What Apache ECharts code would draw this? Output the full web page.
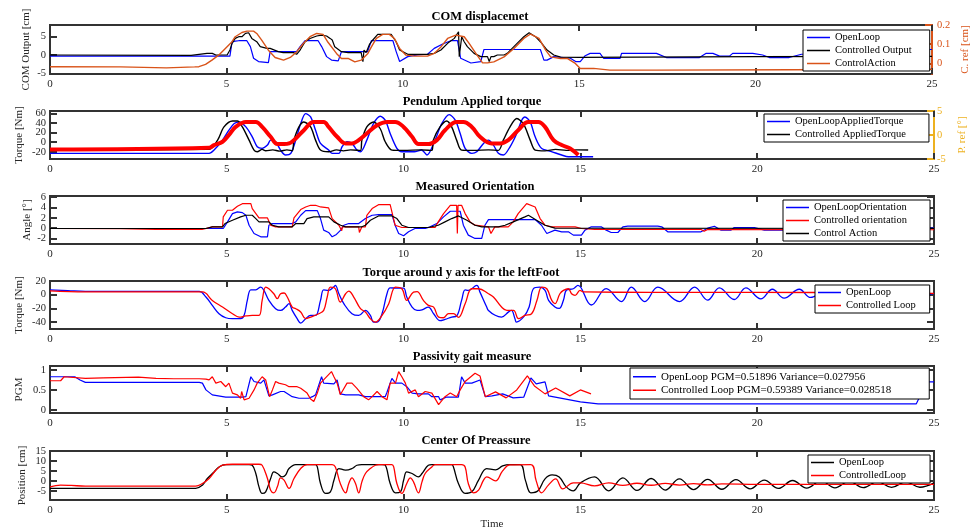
<!DOCTYPE html>
<html><head><meta charset="utf-8">
<script src="https://cdn.jsdelivr.net/npm/echarts@6/dist/echarts.min.js"></script>
<style>html,body{margin:0;padding:0;background:#fff}#c{width:979px;height:532px}</style>
</head><body><div id="c"></div>
<script>
// ---------- DATA (time [s], value) ----------
// Panel 1: COM displacement
const comOpenLoop = [[0,-0.3],[5.1,-0.3],[5.16,3.6],[5.25,3.8],[5.35,3.9],[5.58,3.9],[5.68,2.3],[5.77,-0.9],[5.91,-1.8],[6.19,-2.1],[6.24,0.9],[6.99,0.9],[7.09,2.3],[7.23,3.9],[7.6,3.9],[7.7,2.3],[7.84,-0.45],[7.98,-1.4],[8.17,-1.6],[8.26,0.9],[9.0,0.9],[9.11,3.9],[9.72,3.9],[9.81,1.0],[9.91,-1.8],[10.14,-0.45],[10.42,0],[10.7,0.2],[10.89,1.8],[11.13,3.0],[11.36,3.9],[11.55,3.9],[11.64,-0.9],[11.93,-2.2],[12.21,-1.8],[12.3,1.5],[13.9,1.5],[14.0,-1.4],[14.09,-1.4],[14.28,-0.45],[14.75,-0.9],[14.9,-1.8],[15.03,-1.8],[15.17,-0.2],[15.31,0.45],[15.59,0.45],[15.69,-0.9],[16.16,-0.9],[16.2,0.45],[17.19,0.45],[17.47,-0.7],[18.41,-0.7],[18.6,0.45],[18.79,0.45],[18.98,-0.3],[19.26,-0.3],[19.35,0.45],[19.92,0.45],[20.2,0],[20.39,-0.7],[20.95,-0.7],[21.3,0.2],[24,0.4],[24.7,1.5],[25,1.5]];
const comControlled = [[0,0],[4.0,-0.1],[4.45,0.45],[4.6,0.45],[4.7,0],[5.02,0],[5.1,1.36],[5.16,3.18],[5.25,4.54],[5.35,5.0],[5.44,5.0],[5.54,5.9],[5.63,6.08],[5.72,4.54],[5.86,3.63],[5.96,2.27],[6.15,1.82],[6.24,1.82],[6.29,1.54],[6.47,0.91],[6.61,0.64],[6.9,0.64],[6.99,0.18],[7.09,1.36],[7.23,3.63],[7.37,4.5],[7.56,5.2],[7.7,5.45],[7.84,5.2],[7.94,4.54],[8.0,4.1],[8.07,2.27],[8.26,0.91],[8.45,0.64],[8.82,0.64],[8.87,-1.82],[8.9,1.36],[8.96,0.64],[9.06,3.0],[9.15,4.1],[9.29,5.63],[9.67,5.63],[9.72,5.45],[9.81,3.63],[9.91,1.36],[10.14,0.18],[10.7,0.18],[10.89,0.45],[11.08,1.36],[11.27,3.18],[11.46,4.54],[11.58,6.36],[11.6,-0.45],[11.63,-0.45],[11.67,5.0],[11.74,3.63],[11.83,2.27],[12.02,0.45],[12.21,-0.45],[12.4,-0.45],[12.45,-1.8],[12.5,-0.45],[12.58,-0.45],[12.68,0],[12.87,0],[12.96,0.45],[13.1,1.82],[13.24,3.18],[13.43,5.0],[13.58,6.1],[13.76,5.0],[13.9,3.63],[14.09,1.36],[14.28,0],[14.47,-0.6],[15,-0.64],[20,-0.45],[25,-0.4]];
const comControlAction = [[0,-0.017],[2,-0.018],[3.3,-0.023],[4.1,-0.018],[4.22,-0.017],[4.41,-0.005],[4.59,0.017],[4.78,0.043],[4.97,0.078],[5.16,0.113],[5.25,0.139],[5.44,0.161],[5.58,0.168],[5.77,0.168],[5.86,0.156],[6.0,0.121],[6.19,0.069],[6.38,0.031],[6.62,0.017],[6.81,0.031],[6.99,0.060],[7.18,0.104],[7.37,0.139],[7.56,0.156],[7.74,0.151],[7.88,0.110],[8.12,0.052],[8.26,0.026],[8.45,0.026],[8.64,0.008],[8.82,0.017],[9.01,0.052],[9.11,0.086],[9.25,0.130],[9.43,0.151],[9.62,0.151],[9.76,0.13],[9.91,0.078],[10.09,0.043],[10.33,0.038],[10.7,0.038],[10.89,0.052],[11.08,0.086],[11.27,0.130],[11.5,0.147],[11.74,0.139],[11.88,0.104],[12.07,0.052],[12.26,0.003],[12.4,0.003],[12.58,0.008],[12.87,0.034],[13.15,0.078],[13.43,0.13],[13.62,0.153],[13.86,0.13],[14.05,0.069],[14.19,0.034],[14.47,0.026],[14.66,0.026],[14.89,0],[15.03,-0.026],[15.41,-0.026],[15.87,-0.035],[17.19,-0.035],[21,-0.033],[25,-0.03]];

// Panel 2: Pendulum applied torque
const torqueOpenLoop = [[0,-23.2],[4.5,-23.2],[4.64,-16.4],[4.88,4.3],[5.06,25],[5.21,38.9],[5.35,42.2],[5.54,31.9],[5.72,11.2],[5.86,-9.5],[6.0,-12.8],[6.15,-6],[6.24,4.3],[6.38,0.9],[6.52,-16.4],[6.66,-26.7],[6.81,-23.2],[6.95,4.3],[7.09,38.9],[7.23,59.6],[7.37,52.6],[7.51,25],[7.65,-2.5],[7.88,-16.4],[7.98,-23.2],[8.17,-23.2],[8.26,-9.5],[8.4,0.9],[8.54,-2.5],[8.68,-16.4],[8.78,-19.9],[8.96,4.3],[9.15,38.9],[9.34,54],[9.48,45.8],[9.62,18.2],[9.81,-12.8],[9.95,-19.9],[10.3,-19.9],[10.51,-16.4],[10.66,-26.7],[10.89,4.3],[11.08,38.9],[11.29,57.5],[11.46,45.8],[11.6,18.2],[11.74,-12.8],[11.93,-23.2],[12.07,-19.9],[12.26,-2.5],[12.4,4.3],[12.54,-6],[12.68,-23.2],[12.82,-26.7],[13.01,-9.5],[13.2,18.2],[13.34,45.8],[13.43,52.6],[13.58,42.2],[13.72,11.2],[13.9,-12.8],[14.2,-20],[14.47,-26.7],[14.66,-30.2],[15.36,-30.2]];
const torqueControlled = [[0,-16],[4.5,-15],[4.74,4.3],[4.92,31.9],[5.16,44.3],[5.3,44.3],[5.44,31.9],[5.63,4.3],[5.77,-16.4],[5.86,-19.9],[6.0,-15],[6.1,-17.8],[6.3,-16],[6.5,-18.5],[6.7,-16],[6.85,-17.8],[6.9,4.3],[7.04,31.9],[7.18,42.2],[7.37,31.9],[7.51,4.3],[7.65,-16.4],[7.88,-19.9],[8.1,-16],[8.3,-18],[8.5,-16],[8.78,-17],[8.82,4.3],[8.96,31.9],[9.15,42.2],[9.34,28],[9.48,0.9],[9.67,-16.4],[10.0,-17],[10.5,-16],[10.8,-17],[10.84,4.3],[11.03,31.9],[11.22,44.3],[11.36,31.9],[11.5,4.3],[11.64,-16.4],[12.0,-17],[12.4,-16],[12.68,-17],[12.82,4.3],[13.01,31.9],[13.2,49.3],[13.39,38],[13.58,4.3],[13.72,-16.4],[14.0,-18],[14.3,-15],[14.6,-17],[14.9,-16],[15.22,-16.4]];
const pendulumRef = [[0,-3.0],[4.5,-2.65],[4.64,-2.1],[4.88,-1.41],[5.06,0],[5.25,1.69],[5.54,2.73],[5.82,2.73],[6.0,1.69],[6.24,-0.37],[6.43,-1.89],[6.62,-1.89],[6.76,-1.76],[6.95,-0.72],[7.18,1.0],[7.46,2.73],[7.74,2.73],[7.88,1.69],[8.12,-0.37],[8.36,-1.76],[8.54,-1.76],[8.73,-1.07],[8.96,0.31],[9.25,2.04],[9.53,2.73],[9.76,2.73],[10.0,1.69],[10.24,-0.37],[10.42,-1.89],[10.7,-1.89],[10.94,-1.07],[11.17,1.0],[11.5,2.73],[11.69,2.73],[11.93,1.69],[12.16,-0.37],[12.49,-1.76],[12.73,-1.76],[12.96,-1.07],[13.24,1.0],[13.53,2.73],[13.81,2.73],[14.0,1.69],[14.24,-1.07],[14.47,-2.1],[14.71,-2.8],[14.94,-4.17]];

// Panel 3: Measured orientation
const oriOpenLoop = [[0,-0.06],[4.9,-0.06],[5.02,1.21],[5.16,2.81],[5.3,3.13],[5.44,3.0],[5.54,2.49],[5.63,0.57],[5.77,-1.02],[5.96,-1.66],[6.15,-1.66],[6.19,0.57],[6.29,0.89],[6.85,0.89],[6.95,1.21],[7.09,2.49],[7.23,3.38],[7.56,3.38],[7.65,1.85],[7.74,-0.38],[7.88,-0.83],[7.98,-1.66],[8.1,-1.2],[8.22,-0.38],[8.31,0.57],[8.45,0.89],[8.73,0.89],[8.92,1.85],[9.11,2.49],[9.29,2.6],[9.67,2.6],[9.76,0.57],[9.86,-1.02],[10.0,-1.47],[10.14,-0.7],[10.32,-0.06],[10.61,-0.06],[10.75,0.26],[10.94,0.89],[11.13,2.17],[11.32,3.26],[11.6,3.26],[11.69,0.57],[11.83,-1.34],[12.02,-1.98],[12.21,-1.98],[12.3,0.57],[12.4,1.66],[13.72,1.66],[13.9,0.57],[14.05,-1.02],[14.28,-0.38],[14.47,-0.7],[14.66,-0.7],[14.8,-1.34],[15.03,-1.34],[15.13,-0.38],[15.31,0.26],[15.59,0.26],[15.73,-0.38],[15.87,-0.83],[16.06,-0.83],[16.2,0.26],[16.34,0.38],[17.19,0.38],[17.3,0.26],[17.47,-0.7],[18.41,-0.7],[18.6,0],[18.79,0.38],[18.98,-0.38],[19.26,-0.38],[19.35,0.13],[19.92,0.13],[20.2,-0.38],[20.95,-0.38],[21.3,0],[25,0]];
const oriControlled = [[0,-0.06],[2,-0.1],[3,-0.26],[4.3,-0.26],[4.59,0.26],[4.88,0.26],[4.9,2.17],[5.02,3.45],[5.16,3.45],[5.3,4.21],[5.44,4.72],[5.68,4.72],[5.72,3.77],[5.91,1.98],[6.15,1.98],[6.24,0.57],[6.38,0.26],[6.85,0.26],[6.9,1.98],[7.09,3.58],[7.23,4.09],[7.37,4.41],[7.51,4.41],[7.65,4.09],[7.88,3.9],[7.98,1.85],[8.17,0.57],[8.25,-0.5],[8.27,0.26],[8.73,0.26],[8.75,-0.83],[8.8,-0.83],[8.82,0.26],[8.92,0.26],[8.96,2.49],[9.11,3.77],[9.29,4.53],[9.62,4.53],[9.76,0.57],[9.95,0.13],[10.89,0.13],[10.98,1.21],[11.13,2.81],[11.32,4.41],[11.5,4.41],[11.52,-1.02],[11.54,4.41],[11.64,4.41],[11.74,2.81],[11.88,1.21],[12.02,0.57],[12.4,0.26],[12.47,-1.02],[12.5,-1.02],[12.58,0.26],[12.96,0.26],[13.1,1.21],[13.24,2.81],[13.48,4.72],[13.72,4.09],[13.86,1.85],[14.0,0.57],[14.19,0.26],[14.85,0.26],[15.03,-0.06],[15.41,-0.26],[18.41,-0.26],[18.5,-0.6],[18.6,-0.26],[25,-0.3]];
const oriControlAction = [[0,-0.06],[4.41,-0.06],[4.59,0.26],[4.88,0.26],[4.95,0.9],[5.16,1.53],[5.39,2.17],[5.54,2.49],[5.72,2.49],[5.82,1.85],[5.91,1.21],[6.19,1.21],[6.29,0.57],[6.47,0.26],[6.85,0.26],[6.95,0.89],[7.18,0.89],[7.27,1.85],[7.46,2.17],[7.88,2.17],[8.03,1.21],[8.22,0.57],[8.36,0.26],[8.82,0.26],[8.92,0.57],[9.06,1.53],[9.29,2.36],[9.67,2.36],[9.81,1.85],[9.95,0.57],[10.14,0.13],[10.7,0.13],[10.98,0.57],[11.17,1.21],[11.36,1.85],[11.55,2.36],[11.79,1.53],[12.02,0.57],[12.21,0.26],[12.68,0.26],[12.87,0.57],[13.1,1.21],[13.43,2.17],[13.53,2.49],[13.76,1.53],[14.0,0.57],[14.28,0],[25,-0.06]];

// Panel 4: Torque around y axis, left foot
const footOpenLoop = [[0,7],[0.5,6],[1,5],[4.22,5],[4.41,-3.4],[4.59,-15.6],[4.78,-27.7],[4.97,-33.6],[5.16,-35],[5.39,-35],[5.49,-30],[5.58,-8.3],[5.68,7.2],[5.82,7.2],[5.96,11.1],[6.05,6.3],[6.19,-8.3],[6.38,-20.4],[6.52,-22.9],[6.66,-18],[6.76,-13.1],[6.85,-22.9],[6.99,-35],[7.09,-41.3],[7.23,-35],[7.37,-30.2],[7.51,-30.2],[7.65,-8.3],[7.74,7.2],[7.88,6.3],[8.02,11.1],[8.07,13.6],[8.17,1.4],[8.31,-13.1],[8.54,-27.7],[8.73,-30.2],[8.92,-22.9],[9.06,-30.2],[9.15,-39.9],[9.25,-39.9],[9.39,-27.7],[9.53,1.4],[9.62,10],[9.86,9.5],[10.0,9.5],[10.09,-3.4],[10.24,-18],[10.38,-22.9],[10.52,-22],[10.7,-18],[10.85,-27.7],[11.03,-37.7],[11.17,-36],[11.36,-32.6],[11.5,-31],[11.64,-8.3],[11.74,7.2],[11.83,6.3],[12.07,13.6],[12.16,3.8],[12.35,-18],[12.4,-22.9],[12.59,-30],[12.77,-32.6],[12.97,-25],[13.05,-22.9],[13.15,-35],[13.19,-39.9],[13.4,-32],[13.55,-18],[13.67,8.7],[13.85,11.1],[14.0,6.3],[14.1,-8.3],[14.28,-18],[14.4,-20],[14.52,-8],[14.61,7],[14.8,8.7],[14.93,13.6],[15.31,-15],[15.73,9],[16.16,-10],[16.44,11],[16.82,-10],[17.19,11],[17.8,-10],[18.23,11],[18.6,-8],[18.93,10],[19.35,-7],[19.68,10],[20.1,-6],[20.43,8],[20.76,-5],[21.19,8],[21.51,-4],[21.95,6],[22.35,-3],[22.75,5],[23.15,-2],[23.55,4],[23.95,-1],[24.35,3],[24.75,0],[25,2]];
const footControlled = [[0,5.5],[1,4],[4.31,4],[4.59,-8.3],[4.88,-18],[5.16,-27.7],[5.35,-32.6],[5.54,-31],[5.72,-30.2],[5.91,-30.2],[6.0,-8.3],[6.1,11.1],[6.19,8.7],[6.33,1.4],[6.43,-5.8],[6.52,1.4],[6.62,2.5],[6.71,-3.4],[6.85,-18],[6.95,-20.4],[7.09,-25.3],[7.23,-35],[7.37,-32.6],[7.6,-27.7],[7.74,-22.9],[7.84,-3.4],[7.93,11.1],[8.07,8.7],[8.21,-10.7],[8.36,1.4],[8.45,5.3],[8.59,-3.4],[8.78,-20.4],[8.92,-25.3],[9.06,-35],[9.2,-39.9],[9.39,-30.2],[9.58,-13.1],[9.77,11.1],[9.95,8.7],[10.09,-8.3],[10.28,3.8],[10.38,4.5],[10.56,-8.3],[10.7,-15.6],[10.85,-18],[10.99,-32.6],[11.13,-33.6],[11.27,-27.7],[11.41,-27.7],[11.55,-33],[11.74,-13.1],[11.93,8.7],[12.12,8.7],[12.4,1.4],[12.54,-3.4],[12.77,-18],[12.92,-22.9],[13.11,-22.9],[13.25,-35],[13.43,-30.2],[13.62,-27.7],[13.77,-8.3],[13.91,11.1],[14.05,8.7],[14.19,-8.3],[14.28,-13.1],[14.42,1.4],[14.52,6.3],[14.66,8.7],[14.75,1.4],[14.85,-1],[14.99,6.3],[15.08,4],[17,3.5],[20,3.5],[25,2]];

// Panel 5: Passivity gait measure
const pgmOpenLoop = [[0,0.83],[0.7,0.83],[0.85,0.75],[1.0,0.69],[4.22,0.69],[4.31,0.67],[4.41,0.5],[4.59,0.375],[4.97,0.32],[5.44,0.32],[5.54,0.33],[5.68,0.83],[5.77,0.71],[5.96,0.67],[6.05,0.75],[6.1,0.75],[6.19,0.35],[6.29,0.375],[6.52,0.46],[6.62,0.46],[6.85,0.33],[7.04,0.29],[7.32,0.29],[7.42,0.33],[7.51,0.375],[7.68,0.83],[7.74,0.67],[8.03,0.65],[8.12,0.75],[8.21,0.4],[8.36,0.375],[8.73,0.375],[8.92,0.33],[9.48,0.33],[9.53,0.44],[9.62,0.67],[9.67,0.79],[9.77,0.67],[9.95,0.67],[10.0,0.71],[10.09,0.58],[10.24,0.42],[10.42,0.40],[10.7,0.40],[10.8,0.33],[10.99,0.33],[11.03,0.25],[11.22,0.32],[11.55,0.32],[11.64,0.83],[11.74,0.67],[11.93,0.67],[12.16,0.75],[12.31,0.33],[12.5,0.35],[12.8,0.4],[13.1,0.3],[13.4,0.32],[13.6,0.8],[13.75,0.65],[14.0,0.7],[14.1,0.35],[14.4,0.3],[15,0.2],[15.5,0.15],[24.5,0.15],[24.8,0.7],[25,0.7]];
const pgmControlled = [[0,0.73],[0.3,0.73],[0.4,0.83],[1.0,0.79],[1.5,0.8],[2.5,0.82],[3.0,0.79],[3.5,0.78],[4.22,0.78],[4.41,0.77],[4.5,0.75],[4.59,0.83],[4.69,0.67],[4.83,0.71],[4.97,0.58],[5.06,0.67],[5.16,0.42],[5.3,0.375],[5.39,0.29],[5.42,0.46],[5.49,0.25],[5.54,0.21],[5.63,0.29],[5.77,0.5],[5.86,0.67],[6.0,0.83],[6.1,0.75],[6.21,0.33],[6.29,0.5],[6.38,0.71],[6.47,0.67],[6.66,0.63],[6.76,0.58],[6.99,0.58],[7.09,0.54],[7.27,0.42],[7.37,0.27],[7.46,0.21],[7.56,0.42],[7.65,0.67],[7.96,0.96],[8.03,0.83],[8.12,0.67],[8.21,0.38],[8.4,0.67],[8.54,0.67],[8.68,0.54],[8.87,0.33],[9.01,0.25],[9.11,0.33],[9.25,0.46],[9.39,0.33],[9.53,0.25],[9.62,0.67],[9.77,0.67],[9.86,0.96],[9.95,0.83],[10.05,0.67],[10.14,0.42],[10.33,0.5],[10.42,0.33],[10.61,0.46],[10.8,0.42],[10.99,0.13],[11.17,0.33],[11.32,0.42],[11.5,0.33],[11.6,0.5],[11.74,0.71],[12.02,0.92],[12.16,0.85],[12.31,0.33],[12.6,0.45],[12.9,0.3],[13.2,0.5],[13.5,0.85],[13.7,0.6],[14.0,0.4],[14.3,0.55],[14.7,0.35],[15.0,0.5],[15.3,0.4]];

// Panel 6: Center of pressure
const copOpenLoop = [[0,-3.8],[4.12,-3.8],[4.31,-2.15],[4.45,1.2],[4.64,4.5],[4.78,7],[4.97,8.2],[5.63,8.2],[5.72,7.85],[5.82,3.7],[5.91,-3],[6.0,-6.3],[6.1,-5.5],[6.24,1.2],[6.33,4.5],[6.43,3.7],[6.57,2],[6.66,2.85],[6.76,6.2],[6.95,8.2],[7.51,8.2],[7.56,7],[7.65,-1.3],[7.79,-6.3],[7.93,-5.5],[8.03,0.35],[8.17,6.2],[8.36,5.35],[8.54,6.2],[8.68,7.85],[8.82,8.2],[9.39,8.2],[9.48,7.85],[9.62,-1.3],[9.77,-6],[9.91,-5.5],[10.0,0.35],[10.09,4.5],[10.24,3.7],[10.42,2],[10.52,3.7],[10.7,7.85],[10.8,8.2],[11.36,8.2],[11.41,7],[11.55,-1.3],[11.74,-6.3],[11.93,-5.5],[12.12,0.35],[12.35,6.2],[12.6,5.5],[12.8,7.5],[13.0,8.2],[13.3,8.2],[13.45,0],[13.6,-6],[13.8,-5],[14.0,1],[14.2,3],[14.4,2],[14.6,-3],[14.8,-5],[15.0,-1],[15.4,2],[15.8,-5],[16.2,1.5],[16.6,-4.8],[17.0,1.2],[17.4,-4.6],[17.8,1],[18.2,-4.4],[18.6,0.8],[19.0,-4.2],[19.4,0.6],[19.8,-4],[20.2,0.4],[20.6,-3.8],[21.0,0.2],[21.4,-3.6],[21.8,0],[22.2,-3.5],[22.6,-0.2],[23.0,-3.4],[23.4,-0.4],[23.8,-3.3],[24.2,-0.5],[24.6,-3.2],[25,-1]];
const copControlled = [[0,-3],[0.3,-2.15],[0.6,-2.3],[1,-2.6],[4.12,-2.6],[4.31,-1.3],[4.5,1.2],[4.69,5.35],[4.88,7.85],[5.16,8.35],[5.91,8.35],[6.0,7.85],[6.15,1.2],[6.24,-4.65],[6.33,-6],[6.43,-3],[6.52,1.5],[6.62,0.35],[6.76,-3.8],[6.9,1.2],[7.09,6.2],[7.27,8.2],[7.98,8.2],[8.07,7],[8.21,-1.3],[8.36,-6],[8.45,-1.3],[8.54,1.5],[8.64,-1.3],[8.73,-6],[8.82,-0.5],[8.92,3.7],[9.06,6.2],[9.2,7.85],[9.3,8.2],[9.67,8.2],[9.72,7],[9.81,-1.3],[9.95,-6.3],[10.09,-1.3],[10.19,1.5],[10.28,-0.5],[10.42,-6],[10.52,-0.5],[10.61,3.7],[10.8,7],[10.89,8.2],[11.64,8.2],[11.74,7],[11.83,-1.3],[11.98,-6],[12.12,-4.65],[12.26,0.35],[12.35,2],[12.6,0],[12.8,5],[13.0,8],[13.6,8.2],[13.75,0],[13.9,-6],[14.1,-2],[14.3,1],[14.5,-4],[14.8,-1],[15.0,-1],[15.4,-2.5],[15.8,-1],[16.2,-2.3],[16.6,-1.2],[17.0,-2.2],[17.4,-1.3],[17.8,-2.1],[18.2,-1.4],[18.6,-2.0],[19.0,-1.5],[20,-1.8],[25,-1.8]];

// Axis ticks / labels
const yTicks = [[-5,0,5],[-20,0,20,40,60],[-2,0,2,4,6],[-40,-20,0,20],[0,0.5,1],[-5,0,5,10,15]];
const yRange = [[-5.2,8.2],[-35,65],[-3.05,6.2],[-50,20],[-0.08,1.1],[-9.6,15]];
const yNames = ['COM Output [cm]','Torque [Nm]','Angle [°]','Torque [Nm]','PGM','Position [cm]'];
const titles = ['COM displacemet','Pendulum Applied torque','Measured Orientation','Torque around y axis for the leftFoot','Passivity gait measure','Center Of Preassure'];
const rightTicks1 = [0,0.1,0.2], rightRange1 = [-0.055,0.2];
const rightTicks2 = [-5,0,5], rightRange2 = [-5,5];

// ---------- LAYOUT ----------
const FONT = '"Liberation Serif","Times New Roman",serif';
const AX = '#262626';
const GL = 50, GR = 45;
const tops = [25,111,196,281,366,451];
const bots = [74,159,244,329,413,500];
const nameGaps = [18,25,17,25,25,22];
const titlePos = [[480,17],[472,102],[475,187],[461,273],[472,357],[476,441]];

const grid=[], xAxis=[], yAxis=[], graphic=[];
const labelBase = {show:true,color:AX,fontFamily:FONT,fontSize:11};
for (let i=0;i<6;i++){
  grid.push({left:GL,right:GR,top:tops[i],height:bots[i]-tops[i],show:true,borderColor:'#333',borderWidth:2,backgroundColor:'#fff'});
  const tick = {show:true,inside:true,length:6,lineStyle:{color:'#333',width:2}};
  xAxis.push({type:'value',gridIndex:i,min:0,max:25,interval:5,position:'bottom',
    axisLine:{show:false,onZero:false},axisTick:tick,splitLine:{show:false},
    axisLabel:Object.assign({},labelBase,{margin:5}),
    name: i===5?'Time':'', nameLocation:'middle', nameGap:19, nameTextStyle:{color:AX,fontFamily:FONT,fontSize:11}});
  xAxis.push({type:'value',gridIndex:i,min:0,max:25,interval:5,position:'top',
    axisLine:{show:false,onZero:false},axisTick:tick,splitLine:{show:false},axisLabel:{show:false}});
  yAxis.push({type:'value',gridIndex:i,min:yRange[i][0],max:yRange[i][1],position:'left',
    axisLine:{show:false,onZero:false},splitLine:{show:false},
    axisTick:{show:true,inside:true,length:7,lineStyle:{color:'#333',width:2},customValues:yTicks[i]},
    axisLabel:{show:false},
    name:yNames[i],nameLocation:'middle',nameGap:nameGaps[i],nameRotate:90,
    nameTextStyle:{color:AX,fontFamily:FONT,fontSize:11}});
  if (i===0){
    yAxis.push({type:'value',gridIndex:i,min:rightRange1[0],max:rightRange1[1],position:'right',
      axisLine:{show:true,onZero:false,lineStyle:{color:'#D95319',width:2}},splitLine:{show:false},
      axisTick:{show:true,inside:true,length:7,lineStyle:{color:'#D95319',width:2},customValues:rightTicks1},
      axisLabel:{show:false},
      name:'C. ref [cm]',nameLocation:'middle',nameGap:28,nameRotate:90,
      nameTextStyle:{color:'#D95319',fontFamily:FONT,fontSize:11}});
  } else if (i===1){
    yAxis.push({type:'value',gridIndex:i,min:rightRange2[0],max:rightRange2[1],position:'right',
      axisLine:{show:true,onZero:false,lineStyle:{color:'#EDB120',width:2}},splitLine:{show:false},
      axisTick:{show:true,inside:true,length:7,lineStyle:{color:'#EDB120',width:2},customValues:rightTicks2},
      axisLabel:{show:false},
      name:'P. ref [°]',nameLocation:'middle',nameGap:23,nameRotate:90,
      nameTextStyle:{color:'#EDB120',fontFamily:FONT,fontSize:11}});
  } else {
    yAxis.push({type:'value',gridIndex:i,min:yRange[i][0],max:yRange[i][1],position:'right',
      axisLine:{show:false,onZero:false},splitLine:{show:false},
      axisTick:{show:true,inside:true,length:7,lineStyle:{color:'#333',width:2},customValues:yTicks[i]},
      axisLabel:{show:false}});
  }
  graphic.push({type:'text',x:titlePos[i][0],y:titlePos[i][1],
    style:{text:titles[i],fill:'#000',font:'bold 12.5px '+FONT,textAlign:'center',textVerticalAlign:'middle'}});
}

function line(name,data,gi,yi,color,width,smooth){
  return {type:'line',name:name,data:data,xAxisIndex:gi*2,yAxisIndex:yi,
    color:color,itemStyle:{color:color},lineStyle:{color:color,width:width||1.2},
    symbol:'none',showSymbol:false,smooth:smooth||false,animation:false,z:3};
}
const BLUE='#0000FF', BLACK='#000000', ORANGE='#D95319', RED='#FF0000';
const series = [
  line('OpenLoop',comOpenLoop,0,0,BLUE),
  line('Controlled Output',comControlled,0,0,BLACK),
  line('ControlAction',comControlAction,0,1,ORANGE,1.4),
  line('OpenLoopAppliedTorque',torqueOpenLoop,1,2,BLUE,1.4,0.3),
  line('Controlled AppliedTorque',torqueControlled,1,2,BLACK,1.4,0.3),
  line('P. ref',pendulumRef,1,3,RED,4,0.4),
  line('OpenLoopOrientation',oriOpenLoop,2,4,BLUE),
  line('Controlled orientation',oriControlled,2,4,RED),
  line('Control Action',oriControlAction,2,4,BLACK),
  line('OpenLoop',footOpenLoop,3,6,BLUE,1.3,0.4),
  line('Controlled Loop',footControlled,3,6,RED,1.3,0.4),
  line('OpenLoop PGM=0.51896 Variance=0.027956',pgmOpenLoop,4,8,BLUE),
  line('Controlled Loop PGM=0.59389 Variance=0.028518',pgmControlled,4,8,RED),
  line('OpenLoop',copOpenLoop,5,10,BLACK,1.3,0.4),
  line('ControlledLoop',copControlled,5,10,RED,1.3,0.4)
];

function legend(left,top,pad,items,fs,lh){
  return {show:true,orient:'vertical',left:left,top:top,padding:pad,itemGap:0,itemTextGap:3,
    icon:'rect',itemWidth:23,itemHeight:1.5,backgroundColor:'#fff',borderColor:'#000',borderWidth:1,
    selectedMode:false,textStyle:{fontFamily:FONT,fontSize:fs||10.5,color:'#000',lineHeight:lh||13},
    data:items.map(d=>({name:d[0],itemStyle:{color:d[1]},lineStyle:{color:d[1]}}))};
}
const legends = [
  legend(803,30,[1,18,1,4],[['OpenLoop',BLUE],['Controlled Output',BLACK],['ControlAction',ORANGE]]),
  legend(764,114,[1,23,1,3],[['OpenLoopAppliedTorque',BLUE],['Controlled AppliedTorque',BLACK]]),
  legend(783,200,[1,23,1,3],[['OpenLoopOrientation',BLUE],['Controlled orientation',RED],['Control Action',BLACK]]),
  legend(815,285,[1,14,1,3],[['OpenLoop',BLUE],['Controlled Loop',RED]]),
  legend(630,368,[2,38,2,3],[['OpenLoop PGM=0.51896 Variance=0.027956',BLUE],['Controlled Loop PGM=0.59389 Variance=0.028518',RED]],11,13.5),
  legend(808,455,[1,24,1,3],[['OpenLoop',BLACK],['ControlledLoop',RED]])
];

const chart = echarts.init(document.getElementById('c'),null,{renderer:'canvas',width:979,height:532});
chart.setOption({animation:false,backgroundColor:'#fff',grid,xAxis,yAxis,series,legend:legends,graphic});

// Y tick labels: placed through the library's own axis scales (convertToPixel)
const tickText = [];
function addLabels(axisIndex, values, x, align, color){
  values.forEach(v=>{
    const y = chart.convertToPixel({yAxisIndex:axisIndex}, v);
    tickText.push({type:'text',x:x,y:y,silent:true,
      style:{text:String(v),fill:color,font:'10.5px '+FONT,textAlign:align,textVerticalAlign:'middle'}});
  });
}
const W = 979;
for (let i=0;i<6;i++) addLabels(2*i, yTicks[i], GL-4, 'right', AX);
addLabels(1, rightTicks1, W-GR+3, 'left', '#D95319');
addLabels(3, rightTicks2, W-GR+3, 'left', '#EDB120');
chart.setOption({graphic: graphic.concat(tickText)});
</script></body></html>
